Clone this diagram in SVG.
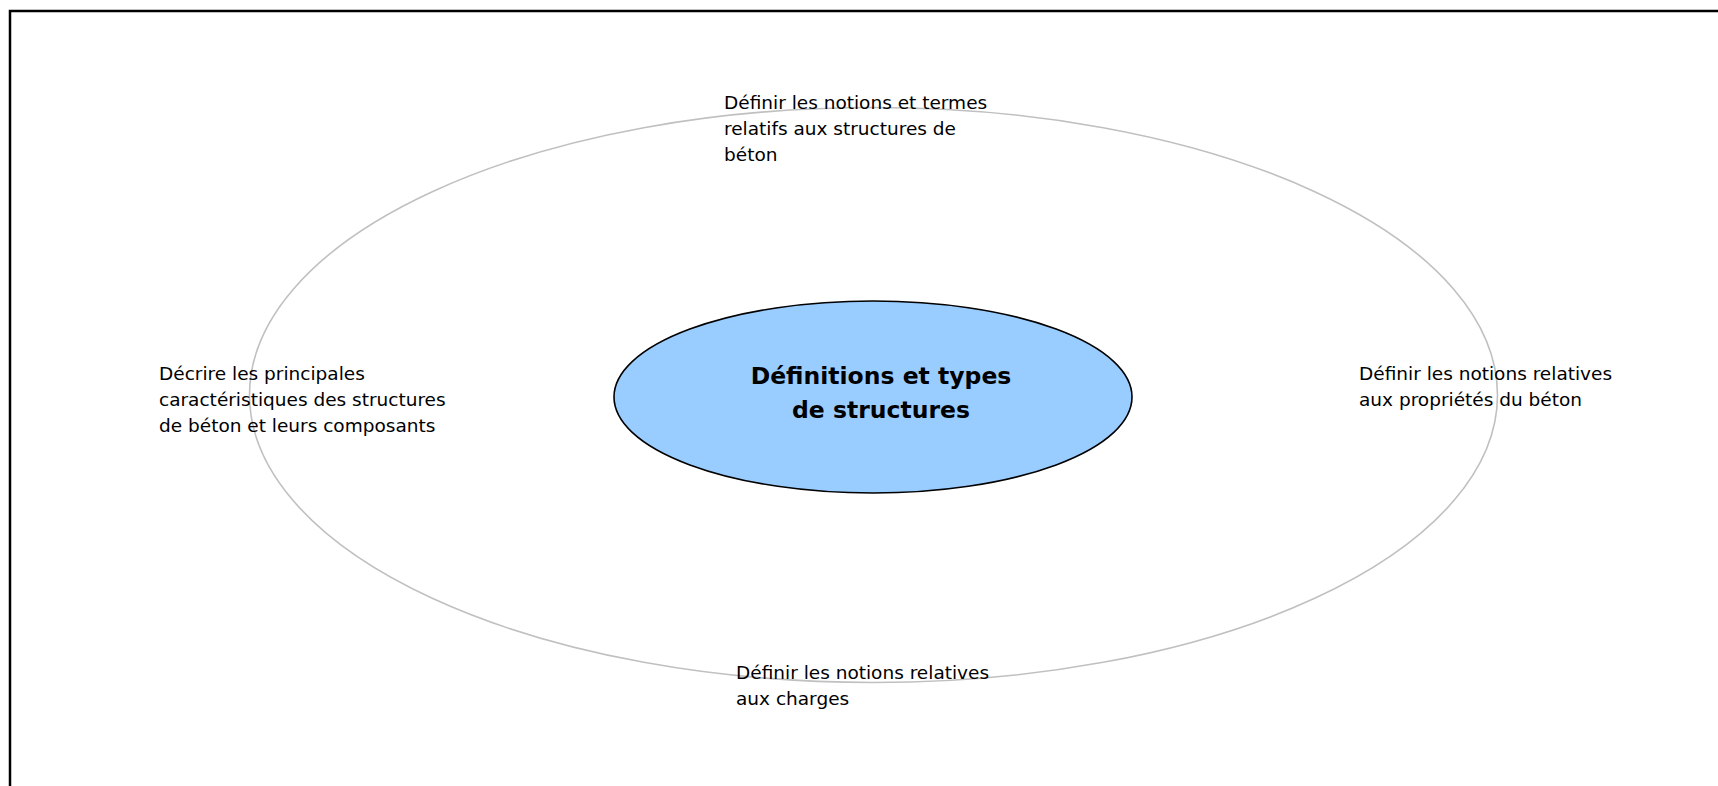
<svg xmlns="http://www.w3.org/2000/svg" width="1718" height="786" viewBox="0 0 1718 786">
<style>
.lbl{font-family:"DejaVu Sans","Verdana",sans-serif;font-size:18.5px;fill:#000}
.ctr{font-family:"DejaVu Sans","Verdana",sans-serif;font-size:23.5px;font-weight:bold;fill:#000;text-anchor:middle}
</style>
<rect width="1718" height="786" fill="#fff"/>
<path d="M10,790 V11 H1720" fill="none" stroke="#000" stroke-width="2.5"/>
<g id="connectors"></g>
<g id="ring">
<ellipse cx="873.5" cy="395" rx="624" ry="287.5" fill="none" stroke="#c0c0c0" stroke-width="1.6"/>
</g>
<g id="center">
<ellipse cx="873" cy="397" rx="259" ry="96" fill="#99ccff" stroke="#000" stroke-width="1.6"/>
<text class="ctr" x="881" y="384">Définitions et types</text>
<text class="ctr" x="881" y="417.5">de structures</text>
</g>
<g id="top">
<text class="lbl" x="724" y="109">Définir les notions et termes</text>
<text class="lbl" x="724" y="135">relatifs aux structures de</text>
<text class="lbl" x="724" y="161">béton</text>
</g>
<g id="left">
<text class="lbl" x="159" y="380">Décrire les principales</text>
<text class="lbl" x="159" y="406">caractéristiques des structures</text>
<text class="lbl" x="159" y="432">de béton et leurs composants</text>
</g>
<g id="right">
<text class="lbl" x="1359" y="380">Définir les notions relatives</text>
<text class="lbl" x="1359" y="406">aux propriétés du béton</text>
</g>
<g id="bottom">
<text class="lbl" x="736" y="679">Définir les notions relatives</text>
<text class="lbl" x="736" y="705">aux charges</text>
</g>
</svg>
